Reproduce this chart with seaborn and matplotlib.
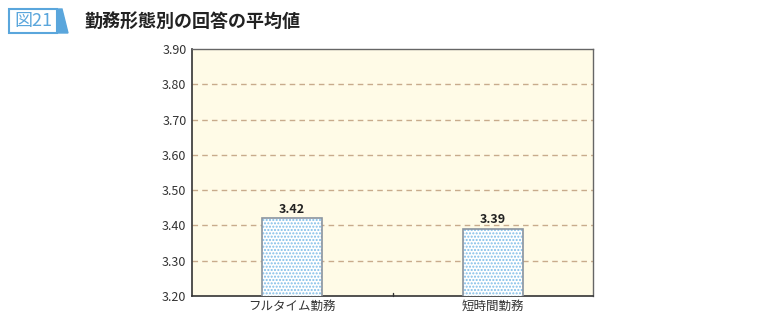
import matplotlib
matplotlib.use("Agg")
import matplotlib.pyplot as plt
import seaborn as sns
import pandas as pd
from matplotlib.patches import Polygon, Rectangle

categories = ["フルタイム勤務", "短時間勤務"]
values = [3.42, 3.39]
yticks = [3.20, 3.30, 3.40, 3.50, 3.60, 3.70, 3.80, 3.90]

sns.set_theme(style="white")
plt.rcParams['font.family'] = ['Noto Sans CJK JP', 'DejaVu Sans']
plt.rcParams['hatch.linewidth'] = 1.0

df = pd.DataFrame({"cat": categories, "val": values})

fig = plt.figure(figsize=(7.6, 3.2), dpi=100)
ax = fig.add_axes([192/760, 1-296/320, (593-192)/760, (296-49)/320])
ax.set_facecolor('#fffbe7')

# dotted fill layer
sns.barplot(data=df, x="cat", y="val", ax=ax, width=0.3, color='white',
            edgecolor='#7fbde8', linewidth=0, zorder=3)
for p in ax.patches:
    p.set_hatch('.....')
    p.set_facecolor('white')
    p.set_edgecolor('#7fbde8')
    p.set_linewidth(0)
n = len(ax.patches)
# outline layer
sns.barplot(data=df, x="cat", y="val", ax=ax, width=0.3, fill=False,
            edgecolor='#8a94a0', linewidth=1.2, zorder=4)

ax.set_ylim(3.20, 3.90)
ax.set_xlim(-0.5, 1.5)
ax.set_yticks(yticks)
ax.set_yticklabels([f"{v:.2f}" for v in yticks], fontsize=9, color='#333333')
ax.set_xticks([0, 1])
ax.set_xticklabels(categories, fontsize=9, color='#333333')
ax.tick_params(axis='x', length=0, pad=3)
ax.tick_params(axis='y', length=0, pad=4)
ax.set_xlabel("")
ax.set_ylabel("")

for v in yticks[1:-1]:
    ax.axhline(v, color='#c8ab8c', linestyle=(0, (4, 3)), linewidth=1.0, zorder=1)

for s in ['left', 'bottom']:
    ax.spines[s].set_color('#333333')
    ax.spines[s].set_linewidth(1.2)
for s in ['top', 'right']:
    ax.spines[s].set_color('#666666')
    ax.spines[s].set_linewidth(1.0)

# middle tick mark
ax.plot([0.5, 0.5], [3.20, 3.208], color='#333333', linewidth=1, clip_on=False, zorder=5)

for i, v in enumerate(values):
    ax.text(i, v + 0.008, f"{v:.2f}", ha='center', va='bottom', fontsize=9,
            color='#222222', fontweight='bold')

# header badge
fig.patches.append(Rectangle((9/760, 1-33/320), 48/760, 24/320, transform=fig.transFigure,
                             facecolor='white', edgecolor='#5aa6dc', linewidth=1.5))
fig.patches.append(Polygon([(57/760, 1-9/320), (62/760, 1-9/320), (68/760, 1-33/320), (57/760, 1-33/320)],
                           closed=True, transform=fig.transFigure, facecolor='#5aa6dc', edgecolor='#5aa6dc'))
fig.text(33/760, 1-21/320, "図21", ha='center', va='center', fontsize=13, color='#5aa6dc')
fig.text(84/760, 1-21/320, "勤務形態別の回答の平均値", ha='left', va='center', fontsize=13,
         color='#222222', fontweight='bold')

fig.savefig("out.png", dpi=100)
